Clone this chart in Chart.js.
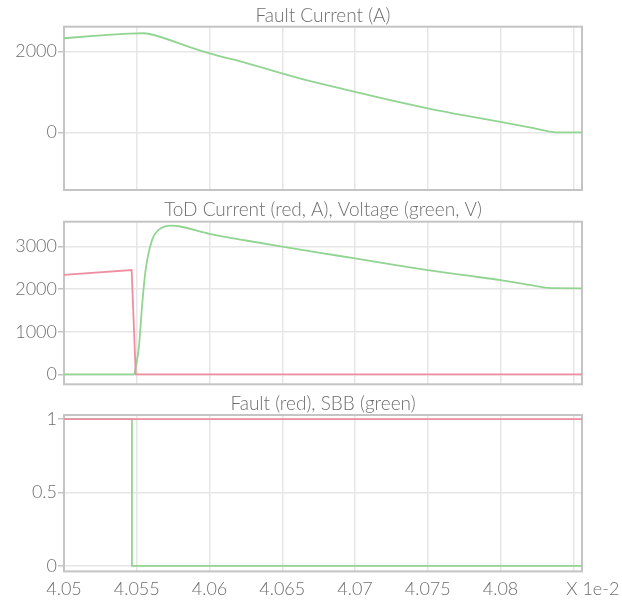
<!DOCTYPE html>
<html>
<head>
<meta charset="utf-8">
<script src="https://cdn.jsdelivr.net/npm/chart.js@4.4.1/dist/chart.umd.min.js"></script>
<style>
  html, body { margin: 0; padding: 0; background: #ffffff; }
  #wrap { position: relative; width: 622px; height: 607px; overflow: hidden; }
  canvas { position: absolute; left: 0; }
</style>
</head>
<body>
<div id="wrap">
  <canvas id="c1" width="622" height="195" style="top:0px"></canvas>
  <canvas id="c2" width="622" height="195" style="top:195px"></canvas>
  <canvas id="c3" width="622" height="217" style="top:390px"></canvas>
</div>
<script>
// ---------- data ----------
const xTicks = [4.05, 4.055, 4.06, 4.065, 4.07, 4.075, 4.08, 4.085];
const xTickLabels = ['4.05', '4.055', '4.06', '4.065', '4.07', '4.075', '4.08', '        X 1e-2'];
const xMin = 4.05;
const xMax = 4.0856;

// Panel 1: Fault Current (A)
const faultCurrentTime = [4.05, 4.052, 4.0545, 4.05545, 4.0558, 4.0589, 4.06, 4.0626, 4.0662, 4.07, 4.0725, 4.075, 4.0775, 4.08, 4.082, 4.0833, 4.0838, 4.0856];
const faultCurrent     = [2333, 2390, 2448, 2457, 2445, 2084, 1960, 1712, 1340, 1005, 790, 595, 420, 260, 120, 25, 0, 0];
const yTicks1 = [0, 2000];
const yLabels1 = ['0', '2000'];

// Panel 2: ToD Current (red, A), Voltage (green, V)
const todTime    = [4.05, 4.05465, 4.05493, 4.0856];
const todCurrent = [2335, 2452, 0, 0];
const voltTime   = [4.05, 4.05481, 4.05495, 4.05515, 4.05538, 4.05561, 4.05606, 4.05652, 4.05742, 4.0579, 4.06, 4.0625, 4.065, 4.0675, 4.07, 4.0725, 4.075, 4.0775, 4.08, 4.082, 4.0835, 4.0856];
const voltage    = [0, 0, 200, 649, 1670, 2457, 3165, 3400, 3496, 3480, 3300, 3145, 3000, 2860, 2725, 2585, 2450, 2330, 2215, 2100, 2025, 2022];
const yTicks2 = [0, 1000, 2000, 3000];
const yLabels2 = ['0', '1000', '2000', '3000'];

// Panel 3: Fault (red), SBB (green)
const faultSigTime = [4.05, 4.0856];
const faultSig     = [1, 1];
const sbbTime      = [4.05, 4.05467, 4.0856];
const sbb          = [1, 0, 0];
const yTicks3 = [0, 0.5, 1];
const yLabels3 = ['0', '0.5', '1'];

// ---------- styling ----------
const RED = '#ef8ea0';
const GREEN = '#92d492';
const TEXT = '#6e6e6e';
const GRID = '#e6e6e6';
const FRAME = '#c4c4c4';
const FONT = 'Lato, "Liberation Sans", sans-serif';

function pts(xs, ys) { return xs.map((x, i) => ({ x: x, y: ys[i] })); }

const framePlugin = {
  id: 'frame',
  beforeDatasetsDraw(chart) {
    const a = chart.chartArea, ctx = chart.ctx;
    ctx.save();
    ctx.strokeStyle = FRAME;
    ctx.lineWidth = 2;
    ctx.strokeRect(a.left, a.top, a.right - a.left, a.bottom - a.top);
    ctx.restore();
  }
};

function makeChart(id, datasets, cfg) {
  return new Chart(document.getElementById(id), {
    type: 'line',
    data: { datasets: datasets },
    plugins: [framePlugin],
    options: {
      responsive: false,
      devicePixelRatio: 1,
      animation: false,
      layout: { padding: { left: 0, right: 40, top: 0, bottom: cfg.padBottom } },
      plugins: {
        legend: { display: false },
        tooltip: { enabled: false },
        title: {
          display: true,
          fullSize: false,
          text: cfg.title,
          color: TEXT,
          font: { family: FONT, size: 19, weight: 300, lineHeight: 1.0 },
          padding: { top: cfg.titleTop, bottom: cfg.titleBottom }
        }
      },
      elements: { point: { radius: 0 }, line: { borderWidth: 1.8, tension: 0 } },
      scales: {
        x: {
          type: 'linear',
          min: xMin,
          max: xMax,
          afterBuildTicks: (axis) => { axis.ticks = xTicks.map(v => ({ value: v })); },
          afterFit: (s) => { s.paddingLeft = 0; s.paddingRight = 0; },
          grid: { color: GRID, lineWidth: 1.5, drawTicks: false },
          border: { display: false },
          ticks: {
            display: cfg.showX,
            autoSkip: false,
            maxRotation: 0,
            padding: 7,
            color: TEXT,
            font: { family: FONT, size: 18, weight: 300 },
            callback: (v, i) => xTickLabels[i]
          }
        },
        y: {
          min: cfg.yMin,
          max: cfg.yMax,
          afterBuildTicks: (axis) => { axis.ticks = cfg.yTicks.map(v => ({ value: v })); },
          afterFit: (s) => { s.width = 64; s.paddingTop = 0; s.paddingBottom = 0; },
          grid: { color: GRID, lineWidth: 1.5, tickLength: 6, tickColor: FRAME },
          border: { display: false },
          ticks: {
            padding: 1,
            color: TEXT,
            font: { family: FONT, size: 18, weight: 300 },
            callback: (v, i) => cfg.yLabels[i]
          }
        }
      }
    }
  });
}

makeChart('c1', [
  { data: pts(faultCurrentTime, faultCurrent), borderColor: GREEN, cubicInterpolationMode: 'monotone' }
], { title: 'Fault Current (A)', yMin: -1432, yMax: 2620, yTicks: yTicks1, yLabels: yLabels1,
     showX: false, padBottom: 5, titleTop: 6.5, titleBottom: 1.2 });

makeChart('c2', [
  { data: pts(todTime, todCurrent), borderColor: RED },
  { data: pts(voltTime, voltage), borderColor: GREEN, cubicInterpolationMode: 'monotone' }
], { title: 'ToD Current (red, A), Voltage (green, V)', yMin: -235, yMax: 3587, yTicks: yTicks2, yLabels: yLabels2,
     showX: false, padBottom: 5.7, titleTop: 5.5, titleBottom: 2.2 });

makeChart('c3', [
  { data: pts(faultSigTime, faultSig), borderColor: RED },
  { data: pts(sbbTime, sbb), borderColor: GREEN, stepped: 'before' }
], { title: 'Fault (red), SBB (green)', yMin: -0.037, yMax: 1.028, yTicks: yTicks3, yLabels: yLabels3,
     showX: true, padBottom: 0, titleTop: 4.5, titleBottom: 1.5 });
</script>
</body>
</html>
